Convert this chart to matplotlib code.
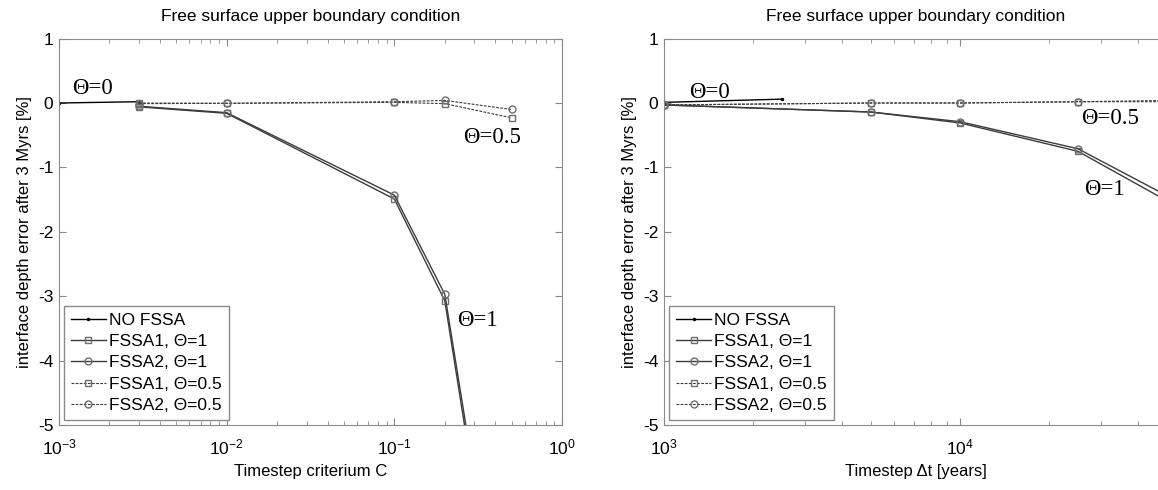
import matplotlib
matplotlib.use('Agg')
import matplotlib.pyplot as plt
from matplotlib.ticker import LogLocator, FixedLocator

plt.rcParams['font.family'] = ['Liberation Sans', 'DejaVu Sans']
plt.rcParams['mathtext.fontset'] = 'custom'
plt.rcParams['mathtext.rm'] = 'Liberation Sans'
plt.rcParams['axes.unicode_minus'] = False

# left panel: timestep criterium C
crit = [3e-3, 1e-2, 1e-1, 2e-1, 5e-1]
crit_nofssa = [1e-3, 3e-3]
nofssa_c = [0.0, 0.02]
fssa1_t1_c = [-0.06, -0.16, -1.49, -3.07, -9.6]
fssa2_t1_c = [-0.05, -0.15, -1.43, -2.97, -9.4]
fssa1_t05_c = [0.0, -0.005, 0.01, -0.01, -0.23]
fssa2_t05_c = [-0.01, -0.005, 0.02, 0.04, -0.10]

# right panel: timestep dt in years
dt = [1e3, 5e3, 1e4, 2.5e4, 5e4]
dt_nofssa = [1e3, 2.5e3]
nofssa_dt = [0.01, 0.06]
fssa1_t1_dt = [-0.03, -0.14, -0.31, -0.75, -1.52]
fssa2_t1_dt = [-0.03, -0.14, -0.29, -0.71, -1.44]
fssa1_t05_dt = [-0.03, 0.0, 0.0, 0.02, 0.02]
fssa2_t05_dt = [-0.03, 0.0, 0.0, 0.02, 0.04]

labels = ['NO FSSA', 'FSSA1, Θ=1', 'FSSA2, Θ=1', 'FSSA1, Θ=0.5', 'FSSA2, Θ=0.5']
title = 'Free surface upper boundary condition'
ylabel = 'interface depth error after 3 Myrs [%]'

line_col = '#3c3c3c'
mark_col = '#6e6e6e'
spine_col = '#8a8a8a'


def panel(ax, x, xn, yn, s1, s2, d1, d2, xlim, xlabel, notes):
    ax.plot(xn, yn, color='black', lw=1.0, marker='.', ms=3, label=labels[0])
    ax.plot(x, s1, color=line_col, lw=1.0, marker='s', ms=5, mfc='none', mec=mark_col, label=labels[1])
    ax.plot(x, s2, color=line_col, lw=1.0, marker='o', ms=5, mfc='none', mec=mark_col, label=labels[2])
    ax.plot(x, d1, color=line_col, lw=0.8, ls=(0, (2.5, 1.2)), marker='s', ms=5, mfc='none', mec=mark_col, label=labels[3])
    ax.plot(x, d2, color=line_col, lw=0.8, ls=(0, (2.5, 1.2)), marker='o', ms=5, mfc='none', mec=mark_col, label=labels[4])
    ax.set_xscale('log')
    ax.set_xlim(xlim)
    ax.set_ylim(-5, 1)
    ax.yaxis.set_major_locator(FixedLocator([-5, -4, -3, -2, -1, 0, 1]))
    ax.xaxis.set_major_locator(LogLocator(base=10))
    ax.xaxis.set_minor_locator(LogLocator(base=10, subs=range(2, 10)))
    ax.tick_params(which='both', direction='in', top=True, right=True, colors=spine_col,
                   labelcolor='black', labelsize=12.5)
    ax.tick_params(which='major', length=5)
    ax.tick_params(which='minor', length=3)
    ax.tick_params(axis='x', which='major', pad=9)
    ax.tick_params(axis='y', which='major', pad=4)
    for sp in ax.spines.values():
        sp.set_color(spine_col)
    ax.set_xlabel(xlabel, fontsize=12, labelpad=5)
    ax.set_ylabel(ylabel, fontsize=12, labelpad=4)
    ax.set_title(title, fontsize=12.5, pad=13)
    for tx, ty, s in notes:
        ax.text(tx, ty, s, family=['Liberation Serif'], fontsize=16.5, va='baseline')
    leg = ax.legend(loc='lower left', fontsize=12.5, fancybox=False, framealpha=1,
                    edgecolor=spine_col, borderaxespad=0.3, handlelength=2.0,
                    handletextpad=0.2, labelspacing=0.35, borderpad=0.4)
    leg.get_frame().set_linewidth(1.0)


fig = plt.figure(figsize=(11.58, 4.9), dpi=100)
ax1 = fig.add_axes([0.0509, 0.1327, 0.4344, 0.7885])
ax2 = fig.add_axes([0.5734, 0.1327, 0.4344, 0.7885])

panel(ax1, crit, crit_nofssa, nofssa_c, fssa1_t1_c, fssa2_t1_c, fssa1_t05_c, fssa2_t05_c,
      (1e-3, 1), 'Timestep criterium C',
      [(1.2e-3, 0.14, 'Θ=0'), (0.256, -0.62, 'Θ=0.5'), (0.238, -3.47, 'Θ=1')])
panel(ax2, dt, dt_nofssa, nofssa_dt, fssa1_t1_dt, fssa2_t1_dt, fssa1_t05_dt, fssa2_t05_dt,
      (1e3, 5e4), 'Timestep Δt [years]',
      [(1.22e3, 0.08, 'Θ=0'), (2.57e4, -0.32, 'Θ=0.5'), (2.62e4, -1.43, 'Θ=1')])

fig.savefig('out.png', dpi=100)
